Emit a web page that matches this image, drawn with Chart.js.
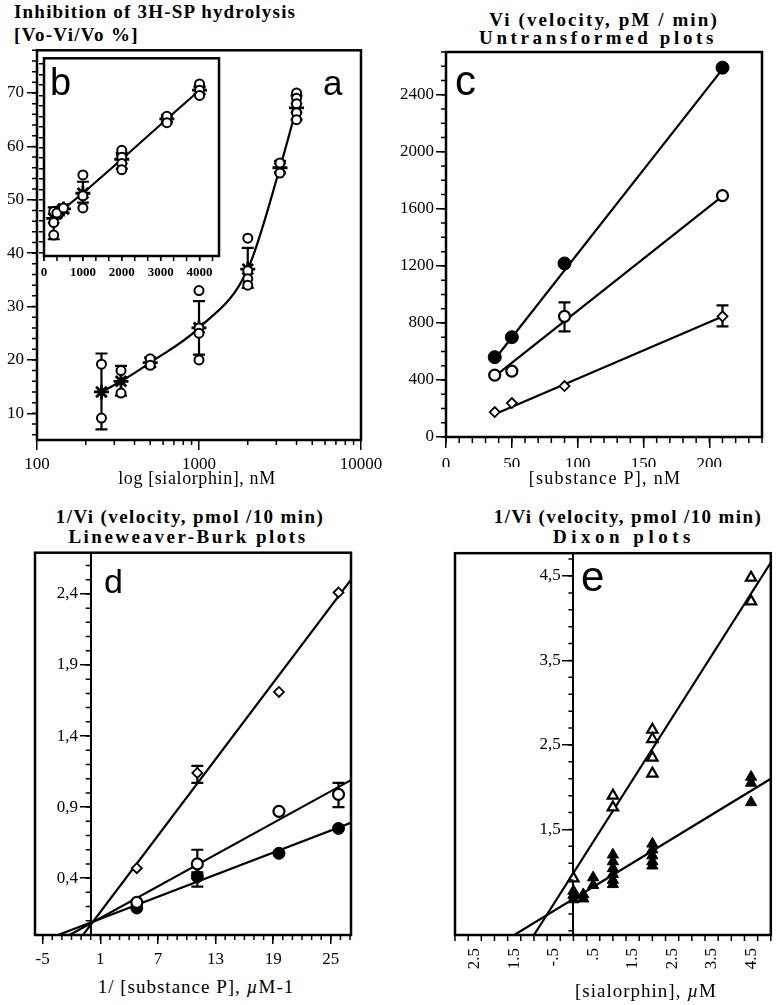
<!DOCTYPE html>
<html lang="en">
<head>
<meta charset="UTF-8">
<title>Sialorphin and substance P hydrolysis</title>
<script src="https://cdn.jsdelivr.net/npm/chart.js@4.4.1/dist/chart.umd.min.js"></script>
<style>
  body { margin: 0; background: #fff; width: 779px; height: 1005px; position: relative; overflow: hidden; }
  canvas { position: absolute; }
  .t { position: absolute; font-family: "Liberation Serif", serif; line-height: 1; white-space: nowrap; color: #000; }
  .h { font-weight: bold; font-size: 19px; }
  .mid { transform: translateX(-50%); }
  .ax { font-size: 18px; }
  .ax2 { font-size: 19px; letter-spacing: 1px; }
  .lt { position: absolute; font-family: "Liberation Sans", Arial, sans-serif; line-height: 1; color: #000; }
</style>
</head>
<body>
<!-- titles -->
<div class="t h" style="left:14px;top:2px;letter-spacing:1.2px">Inhibition of 3H-SP hydrolysis</div>
<div class="t h" style="left:14px;top:25px;letter-spacing:1.3px">[Vo-Vi/Vo %]</div>
<div class="t h mid" style="left:604px;top:10px;letter-spacing:2.1px">Vi (velocity, pM / min)</div>
<div class="t h mid" style="left:598px;top:28px;letter-spacing:3.6px">Untransformed plots</div>
<div class="t h mid" style="left:190px;top:507px;letter-spacing:1.4px">1/Vi (velocity, pmol /10 min)</div>
<div class="t h mid" style="left:188px;top:527px;letter-spacing:2.5px">Lineweaver-Burk plots</div>
<div class="t h mid" style="left:628px;top:507px;letter-spacing:1.4px">1/Vi (velocity, pmol /10 min)</div>
<div class="t h mid" style="left:624px;top:527px;letter-spacing:4.5px">Dixon plots</div>

<canvas id="chartA"></canvas>
<canvas id="chartB" style="z-index:2"></canvas>
<canvas id="chartC"></canvas>
<canvas id="chartD"></canvas>
<canvas id="chartE"></canvas>

<!-- axis titles -->
<div class="t ax mid" style="left:197px;top:469px;letter-spacing:0.6px">log [sialorphin], nM</div>
<div class="t ax mid" style="left:605px;top:469px;letter-spacing:1.3px">[substance P], nM</div>
<div class="t ax2 mid" style="left:196px;top:977px">1/ [substance P], <i>µ</i>M-1</div>
<div class="t ax2 mid" style="left:646px;top:981px">[sialorphin], <i>µ</i>M</div>

<!-- panel letters -->
<div class="lt" style="left:323px;top:65px;font-size:35px;z-index:3">a</div>
<div class="lt" style="left:50px;top:63px;font-size:38px;z-index:3">b</div>
<div class="lt" style="left:455px;top:60px;font-size:42px">c</div>
<div class="lt" style="left:104px;top:564px;font-size:34px">d</div>
<div class="lt" style="left:581px;top:556px;font-size:42px">e</div>

<script>
// ---- a: inhibition vs log [sialorphin] (nM)
const aConc = [250, 330, 500, 1000, 2000, 3160, 4000];
const aMean = [14, 16, 19.5, 26, 37, 56, 67.2];
const aReps = [[19.2, 9.1], [18, 13.8], [20.2, 19], [33, 26, 25, 20], [42.8, 36.7, 35.2, 34], [56.9, 55], [70, 69, 68, 66.3, 65]];
const aErrLo = [7, 13.3, 18.7, 21, 33.5, 55, 65];
const aErrHi = [21.2, 18.9, 20.5, 31, 41, 57.3, 69.5];
const aTicksX = [100, 1000, 10000];
const aTicksY = [10, 20, 30, 40, 50, 60, 70];

// ---- b (inset): same data on a linear concentration axis
const bConc = [250, 330, 500, 1000, 2000, 3160, 4000];
const bMean = [46.5, 47.5, 48.3, 51.3, 57.8, 65.5, 71];
const bReps = [[47.8, 45.7, 43.3], [47.5], [48.5], [54.8, 50.8, 48.5], [59.5, 58.2, 57, 55.8], [66, 64.8], [72.2, 71, 70]];
const bErrLo = [42.5, 46.8, 47.6, 49.5, 56, 65, 70.3];
const bErrHi = [48.6, 48.3, 49, 53.5, 59, 66, 71.6];
const bTicksX = [0, 1000, 2000, 3000, 4000];

// ---- c: untransformed velocity (pM/min) vs [substance P] (nM)
const cSubstrate = [37, 50, 90, 210];
const cFilled = [560, 700, 1217, 2590];
const cOpen = [434, 462, 846, 1693];
const cDiamond = [175, 238, 357, 846];
const cFitX = [37, 210];
const cFitFilled = [545, 2580];
const cFitOpen = [425, 1690];
const cFitDiamond = [160, 845];
const cErrOpen = { x: [90], lo: [741], hi: [944] };
const cErrDiamond = { x: [210], lo: [776], hi: [923] };
const cTicksX = [0, 50, 100, 150, 200];
const cTicksY = [0, 400, 800, 1200, 1600, 2000, 2400];

// ---- d: Lineweaver-Burk, 1/Vi vs 1/[S] (µM-1)
const dInvS = [4.8, 11.1, 19.6, 25.8];
const dDiamond = [0.47, 1.14, 1.71, 2.41];
const dOpen = [0.23, 0.5, 0.87, 0.99];
const dFilled = [0.19, 0.41, 0.575, 0.75];
const dFitDiamond = { x: [-0.8, 27.1], y: [0, 2.5] };
const dFitOpen = { x: [-2.2, 27.1], y: [0, 1.09] };
const dFitFilled = { x: [-3.4, 27.1], y: [0, 0.79] };
const dErrDiamond = { x: [11.1], lo: [1.07], hi: [1.19] };
const dErrOpen = { x: [11.1, 25.8], lo: [0.43, 0.9], hi: [0.6, 1.07] };
const dErrFilled = { x: [11.1], lo: [0.34], hi: [0.44] };
const dTicksX = [-5, 1, 7, 13, 19, 25];
const dTicksY = [0.4, 0.9, 1.4, 1.9, 2.4];

// ---- e: Dixon, 1/Vi vs [sialorphin] (µM)
const eOpenX = [0, 1, 1, 2, 2, 2, 2, 4.5, 4.5];
const eOpenY = [0.92, 1.9, 1.76, 2.68, 2.57, 2.35, 2.16, 4.48, 4.2];
const eFilledX = [0, 0, 0, 0.25, 0.25, 0.5, 0.5, 1, 1, 1, 1, 1, 1, 2, 2, 2, 2, 2, 4.5, 4.5, 4.5];
const eFilledY = [0.77, 0.72, 0.67, 0.73, 0.68, 0.93, 0.84, 1.2, 1.12, 1.04, 0.97, 0.9, 0.85, 1.33, 1.26, 1.19, 1.12, 1.07, 2.12, 2.05, 1.82];
const eFitOpen = { x: [-1.0, 5], y: [0.25, 4.66] };
const eFitFilled = { x: [-1.5, 5], y: [0.25, 2.1] };
const eTicksX = [-2.5, -1.5, -0.5, 0.5, 1.5, 2.5, 3.5, 4.5];
const eTickLabelsX = ['-2.5', '-1.5', '-.5', '.5', '1.5', '2.5', '3.5', '4.5'];
const eTicksY = [1.5, 2.5, 3.5, 4.5];

const serif = '"Liberation Serif", "Times New Roman", serif';
Chart.defaults.font.family = serif;
Chart.defaults.color = '#000';

const pick = (xs, ys) => xs.map((x, i) => ({ x, y: ys[i] }));
const spread = (xs, reps) => xs.flatMap((x, i) => reps[i].map(y => ({ x, y })));
const range = (a, b, step) => {
    const out = [];
    for (let k = 0; a + k * step <= b + 1e-9; k++) out.push(+(a + k * step).toFixed(6));
    return out;
};
// labels of the inner y axis sit right on the axis line, so pad them past the ticks
const comma = v => String(v).replace('.', ',') + '   ';

// per-canvas extras: minor ticks, error bars, background
const extras = {};

const panelPlugin = {
    id: 'panel',
    beforeDraw(chart) {
        const ex = extras[chart.canvas.id];
        if (!ex || !ex.fill) return;
        const a = chart.chartArea, ctx = chart.ctx;
        ctx.save();
        ctx.fillStyle = ex.fill;
        ctx.fillRect(a.left, a.top, a.right - a.left, a.bottom - a.top);
        ctx.restore();
    },
    beforeDatasetsDraw(chart) {
        const ex = extras[chart.canvas.id];
        if (!ex || !ex.bars) return;
        const ctx = chart.ctx, sx = chart.scales.x, sy = chart.scales.y;
        ctx.save();
        ctx.strokeStyle = '#000';
        ctx.lineWidth = 2.2;
        ex.bars.forEach(b => b.x.forEach((x, i) => {
            const px = sx.getPixelForValue(x);
            const p1 = sy.getPixelForValue(b.lo[i]), p2 = sy.getPixelForValue(b.hi[i]);
            ctx.beginPath();
            ctx.moveTo(px, p1); ctx.lineTo(px, p2);
            ctx.moveTo(px - 6, p1); ctx.lineTo(px + 6, p1);
            ctx.moveTo(px - 6, p2); ctx.lineTo(px + 6, p2);
            ctx.stroke();
        }));
        ctx.restore();
    },
    afterDraw(chart) {
        const ex = extras[chart.canvas.id];
        const a = chart.chartArea, ctx = chart.ctx;
        ctx.save();
        ctx.strokeStyle = '#000';
        ctx.lineWidth = 2.5;
        ctx.strokeRect(a.left, a.top, a.right - a.left, a.bottom - a.top);
        if (ex && ex.minor) {
            const m = ex.minor;
            ctx.lineWidth = 1.5;
            ctx.beginPath();
            (m.x || []).forEach(v => {
                const px = chart.scales.x.getPixelForValue(v);
                ctx.moveTo(px, a.bottom); ctx.lineTo(px, a.bottom + m.lenX);
            });
            const x0 = ex.yAt === undefined ? a.left : chart.scales.x.getPixelForValue(ex.yAt);
            (m.y || []).forEach(v => {
                const py = chart.scales.y.getPixelForValue(v);
                ctx.moveTo(x0, py); ctx.lineTo(x0 - m.lenY, py);
            });
            ctx.stroke();
        }
        ctx.restore();
    }
};
Chart.register(panelPlugin);

function scaleCfg(o) {
    return {
        type: o.type || 'linear',
        min: o.min,
        max: o.max,
        position: o.position,
        border: { display: true, color: '#000', width: 2 },
        grid: {
            display: true, drawOnChartArea: false, drawTicks: true,
            tickLength: o.tl, color: '#000', lineWidth: 1.5, tickWidth: 1.5,
            tickColor: o.tickColor || '#000'
        },
        ticks: {
            color: '#000', font: o.font, padding: o.pad, autoSkip: false,
            minRotation: o.rot || 0, maxRotation: o.rot || 0,
            callback: o.label || (v => String(v))
        },
        afterBuildTicks: s => { s.ticks = o.at.map(v => ({ value: v })); },
        afterFit: s => {
            if (s.isHorizontal()) { s.height = o.size; s.paddingLeft = 0; s.paddingRight = 0; }
            else { s.width = o.size; s.paddingTop = 0; s.paddingBottom = 0; }
        }
    };
}

function makeChart(id, frame, area, axX, axY, datasets, ex) {
    const cv = document.getElementById(id);
    cv.width = frame.w; cv.height = frame.h;
    cv.style.left = frame.l + 'px'; cv.style.top = frame.t + 'px';
    const yW = typeof axY.position === 'object' ? 0 : axY.size;
    const padding = {
        left: area.l - frame.l - yW,
        top: area.t - frame.t,
        right: frame.l + frame.w - area.r,
        bottom: frame.t + frame.h - area.b - axX.size
    };
    extras[id] = ex;
    return new Chart(cv, {
        type: 'scatter',
        data: { datasets },
        options: {
            responsive: false,
            animation: false,
            layout: { padding },
            plugins: { legend: { display: false }, tooltip: { enabled: false } },
            scales: { x: scaleCfg(axX), y: scaleCfg(axY) }
        }
    });
}

const pts = (data, style, r, fill, bw) => ({
    data, pointStyle: style, pointRadius: r, pointBackgroundColor: fill,
    pointBorderColor: '#000', pointBorderWidth: bw, showLine: false, order: 0
});
const line = (data, smooth) => ({
    data, showLine: true, pointRadius: 0, borderColor: '#000', borderWidth: 2.2,
    tension: smooth ? 0.4 : 0, cubicInterpolationMode: smooth ? 'monotone' : 'default', order: 5
});

const tickFont = { family: serif, size: 17 };

// a
makeChart('chartA', { l: 0, t: 40, w: 390, h: 450 }, { l: 37, t: 48, r: 361, b: 440 },
    { type: 'logarithmic', min: 100, max: 10000, position: 'bottom', at: aTicksX, tl: 10, pad: 4, font: tickFont, size: 30 },
    { min: 5, max: 78, position: 'left', at: aTicksY, tl: 10, pad: 3, font: tickFont, size: 37 },
    [
        pts(spread(aConc, aReps), 'circle', 4.5, '#fff', 2),
        pts(pick(aConc, aMean), 'star', 7.5, '#000', 2.8),
        line(pick(aConc, aMean), true)
    ],
    {
        bars: [{ x: aConc, lo: aErrLo, hi: aErrHi }],
        minor: { x: [...range(200, 900, 100), ...range(2000, 9000, 1000)], y: range(6, 78, 2), lenX: 5, lenY: 5 }
    });

// b (inset)
makeChart('chartB', { l: 20, t: 48, w: 215, h: 240 }, { l: 44, t: 54, r: 219, b: 256 },
    { min: 0, max: 4500, position: 'bottom', at: bTicksX, tl: 5, pad: 4, font: { family: serif, size: 13, weight: 'bold' }, size: 25 },
    { min: 39.3, max: 77.1, position: 'left', at: range(40, 76, 2), tl: 5, pad: 0, font: { family: serif, size: 1 }, size: 6, label: () => '' },
    [
        pts(spread(bConc, bReps), 'circle', 4.5, '#fff', 2),
        pts(pick(bConc, bMean), 'star', 7.5, '#000', 2.8),
        line(pick(bConc, bMean), false)
    ],
    {
        fill: '#fff',
        bars: [{ x: bConc, lo: bErrLo, hi: bErrHi }],
        minor: { x: range(0, 4500, 1000 / 3), y: [], lenX: 5, lenY: 5 }
    });

// c
makeChart('chartC', { l: 390, t: 40, w: 389, h: 450 }, { l: 446, t: 52, r: 762, b: 437 },
    { min: 0, max: 240, position: 'bottom', at: cTicksX, tl: 11, pad: 6, font: tickFont, size: 30 },
    { min: 0, max: 2700, position: 'left', at: cTicksY, tl: 10, pad: 2, font: tickFont, size: 50 },
    [
        pts(pick(cSubstrate, cFilled), 'circle', 6.5, '#000', 1),
        pts(pick(cSubstrate, cOpen), 'circle', 5.5, '#fff', 2.2),
        pts(pick(cSubstrate, cDiamond), 'rectRot', 5, '#fff', 1.8),
        line(pick(cFitX, cFitFilled)),
        line(pick(cFitX, cFitOpen)),
        line(pick(cFitX, cFitDiamond))
    ],
    {
        bars: [cErrOpen, cErrDiamond],
        minor: { x: range(0, 240, 10), y: range(0, 2700, 100), lenX: 6, lenY: 5 }
    });

// d
makeChart('chartD', { l: 0, t: 545, w: 390, h: 420 }, { l: 35, t: 551, r: 351, b: 935 },
    { min: -5.8, max: 27.1, position: 'bottom', at: dTicksX, tl: 9, pad: 5, font: { family: serif, size: 17 }, size: 30 },
    { min: 0, max: 2.69, position: { x: 0 }, at: dTicksY, tl: 10, pad: 2, font: { family: serif, size: 17 }, size: 40, label: comma },
    [
        pts(pick(dInvS, dDiamond), 'rectRot', 5, '#fff', 1.8),
        pts(pick(dInvS, dOpen), 'circle', 5.5, '#fff', 2.2),
        pts(pick(dInvS, dFilled), 'circle', 6, '#000', 1),
        line(pick(dFitDiamond.x, dFitDiamond.y)),
        line(pick(dFitOpen.x, dFitOpen.y)),
        line(pick(dFitFilled.x, dFitFilled.y))
    ],
    {
        yAt: 0,
        bars: [dErrDiamond, dErrOpen, dErrFilled],
        minor: { x: range(-5, 27, 1), y: range(0.1, 2.6, 0.1), lenX: 5, lenY: 5 }
    });

// e
makeChart('chartE', { l: 390, t: 545, w: 389, h: 440 }, { l: 455, t: 551, r: 772, b: 935 },
    { min: -3, max: 5, position: 'bottom', at: eTicksX, tl: 9, pad: 4, font: { family: serif, size: 17 }, size: 35, rot: 90,
      tickColor: 'rgba(0,0,0,0)', label: (v, i) => eTickLabelsX[i] },
    { min: 0.25, max: 4.77, position: { x: 0 }, at: eTicksY, tl: 10, pad: 3, font: { family: serif, size: 17 }, size: 40, label: comma },
    [
        pts(pick(eOpenX, eOpenY), 'triangle', 6, '#fff', 2.2),
        pts(pick(eFilledX, eFilledY), 'triangle', 6.5, '#000', 1),
        line(pick(eFitOpen.x, eFitOpen.y)),
        line(pick(eFitFilled.x, eFitFilled.y))
    ],
    {
        yAt: 0,
        minor: { x: range(-3, 5, 1 / 3), y: range(0.3, 4.7, 0.2), lenX: 6, lenY: 5 }
    });
</script>
</body>
</html>
